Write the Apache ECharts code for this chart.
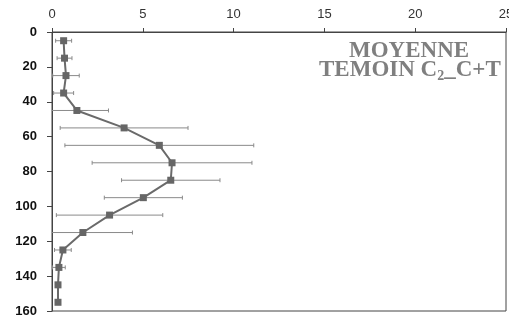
<!DOCTYPE html>
<html><head><meta charset="utf-8">
<script src="https://cdn.jsdelivr.net/npm/echarts@6/dist/echarts.min.js"></script>
<style>html,body{margin:0;padding:0;background:#fff}#c{width:509px;height:321px}</style>
</head><body><div id="c"></div>
<script>
const depths = [5, 15, 25, 35, 45, 55, 65, 75, 85, 95, 105, 115, 125, 135, 145, 155];
const means  = [0.64, 0.69, 0.77, 0.64, 1.37, 3.97, 5.91, 6.61, 6.54, 5.03, 3.17, 1.70, 0.60, 0.38, 0.33, 0.33];
const errs   = [0.44, 0.41, 0.73, 0.55, 1.74, 3.52, 5.20, 4.40, 2.71, 2.15, 2.93, 2.73, 0.46, 0.35, 0.0, 0.12];
const xTicks = [0, 5, 10, 15, 20, 25];
const yTicks = [0, 20, 40, 60, 80, 100, 120, 140, 160];

const chart = echarts.init(document.getElementById('c'));
const lineData = depths.map((d, i) => [means[i], d]);
const errData = depths.map((d, i) => [means[i] - errs[i], means[i] + errs[i], d]);

chart.setOption({
  animation: false,
  grid: { left: 52, right: 3, top: 32, bottom: 10, show: true, borderColor: '#444', borderWidth: 1, backgroundColor: 'transparent', containLabel: false, outerBoundsMode: 'none' },
  xAxis: {
    type: 'value', position: 'top', min: xTicks[0], max: xTicks[xTicks.length - 1], interval: 5,
    axisLine: { show: true, lineStyle: { color: '#444', width: 1 } },
    axisTick: { show: true, inside: false, length: 4, lineStyle: { color: '#444' } },
    splitLine: { show: false },
    axisLabel: { color: '#333', fontSize: 13, fontFamily: 'Liberation Sans, Arial', margin: 11 }
  },
  yAxis: {
    type: 'value', inverse: true, min: yTicks[0], max: yTicks[yTicks.length - 1], interval: 20,
    axisLine: { show: true, lineStyle: { color: '#444', width: 1 } },
    axisTick: { show: true, length: 5, lineStyle: { color: '#444' } },
    splitLine: { show: false },
    axisLabel: { color: '#111', fontSize: 13, fontWeight: 'bold', fontFamily: 'Liberation Sans, Arial', margin: 15 }
  },
  series: [
    {
      type: 'custom', clip: true, z: 1,
      data: errData,
      renderItem: function (params, api) {
        const lo = api.coord([api.value(0), api.value(2)]);
        const hi = api.coord([api.value(1), api.value(2)]);
        const cap = 2;
        const st = { stroke: '#8a8a8a', lineWidth: 1 };
        return {
          type: 'group',
          children: [
            { type: 'line', shape: { x1: lo[0], y1: lo[1], x2: hi[0], y2: hi[1] }, style: st },
            { type: 'line', shape: { x1: lo[0], y1: lo[1] - cap, x2: lo[0], y2: lo[1] + cap }, style: st },
            { type: 'line', shape: { x1: hi[0], y1: hi[1] - cap, x2: hi[0], y2: hi[1] + cap }, style: st }
          ]
        };
      }
    },
    {
      type: 'line', z: 3,
      data: lineData,
      symbol: 'rect', symbolSize: 7,
      lineStyle: { color: '#6a6a6a', width: 2 },
      itemStyle: { color: '#666' }
    }
  ],
  graphic: [
    {
      type: 'text', left: 349, top: 40,
      style: { text: 'MOYENNE', fill: '#7f7f7f', font: 'bold 23px "Liberation Serif", "Times New Roman", serif' }
    },
    {
      type: 'text', left: 319, top: 59,
      style: {
        text: 'TEMOIN C{s|2}_C+T', fill: '#7f7f7f', font: 'bold 23px "Liberation Serif", "Times New Roman", serif',
        rich: { s: { fontSize: 14, fontWeight: 'bold', fontFamily: 'Liberation Serif', fill: '#7f7f7f', padding: [11, 0, 0, 0] } }
      }
    }
  ]
});
</script></body></html>
